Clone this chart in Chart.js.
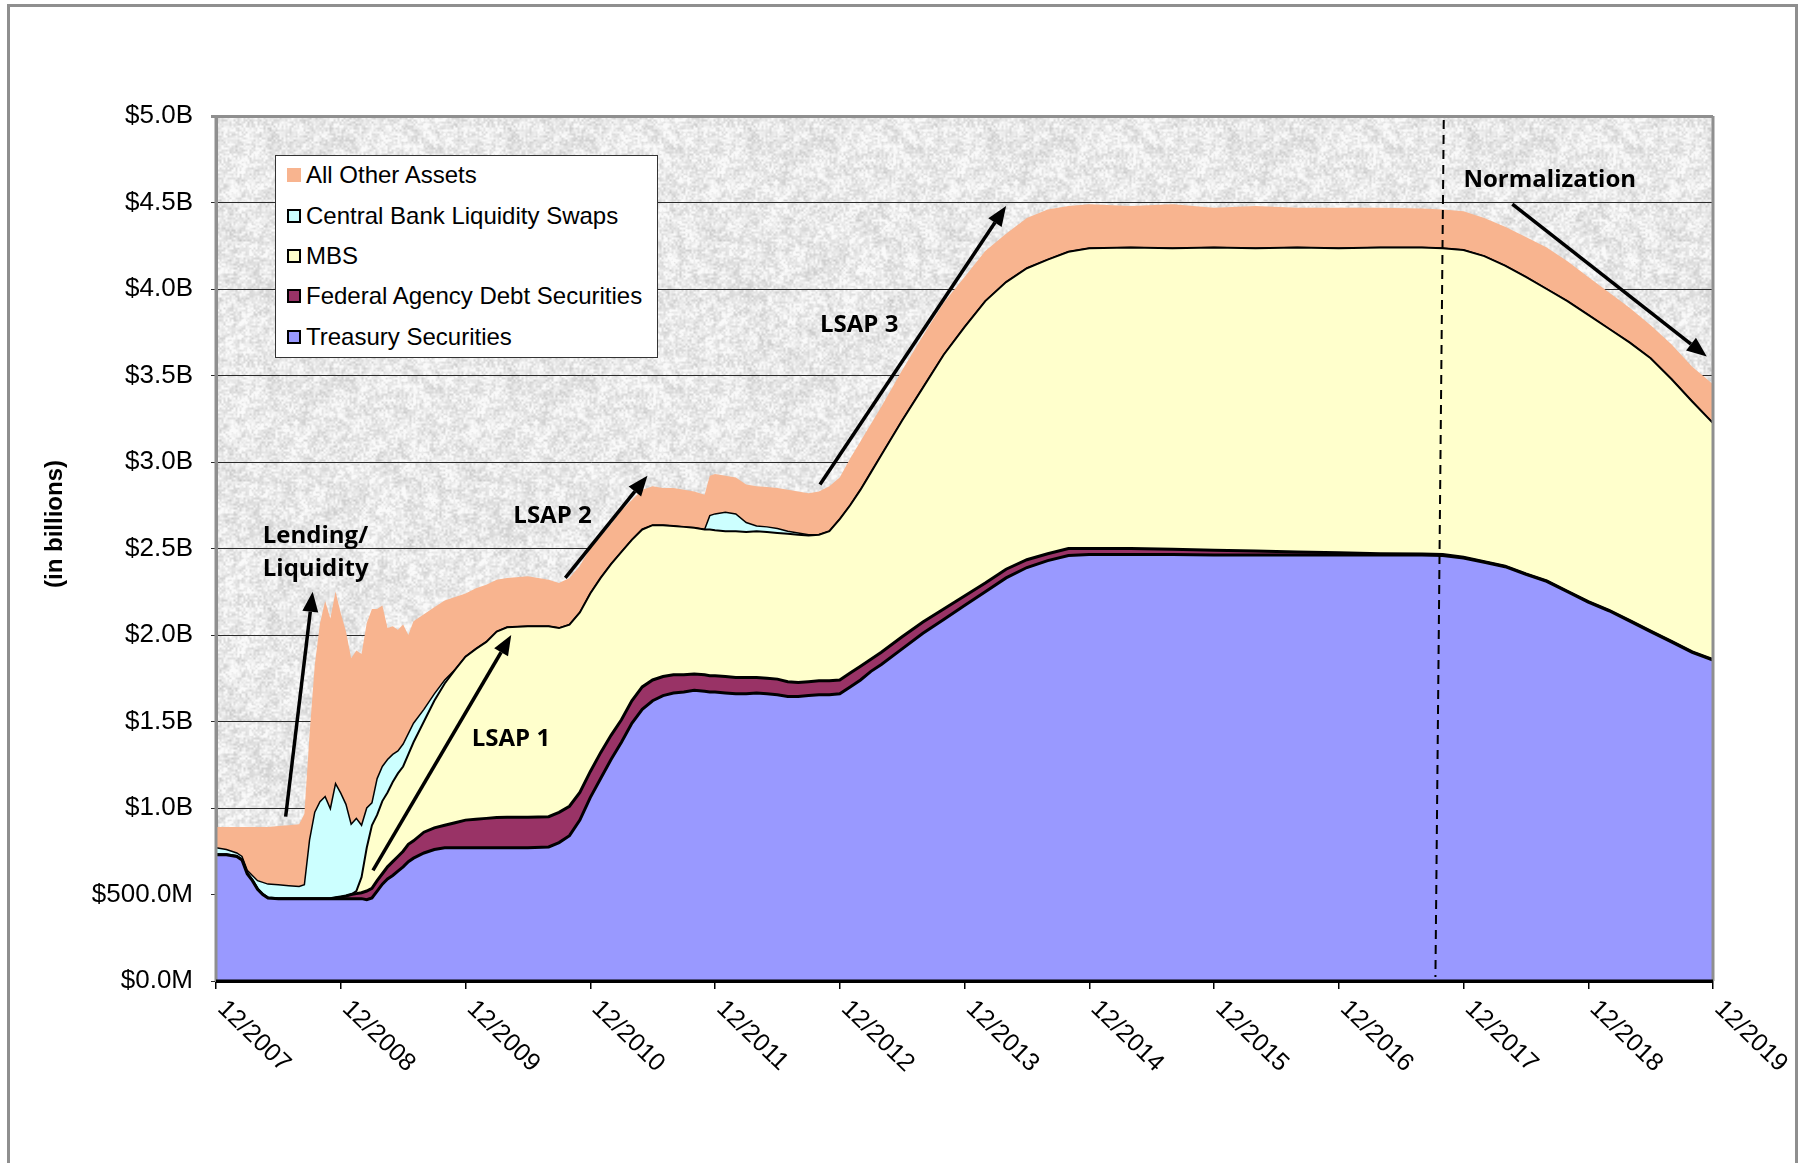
<!DOCTYPE html>
<html>
<head>
<meta charset="utf-8">
<title>Balance de la Reserva Federal</title>
<script src="https://cdn.jsdelivr.net/npm/chart.js@4.4.1/dist/chart.umd.min.js"></script>
<style>
    body { margin: 0; background: #fff; overflow: hidden; }
    #contenedor { position: relative; width: 1806px; height: 1163px; }
    #marco { position: absolute; left: 7px; top: 4px; width: 1791px; height: 1400px; border: 3px solid #8f8f8f; box-sizing: border-box; pointer-events: none; }
    #leyenda { position: absolute; left: 275px; top: 155px; width: 383px; height: 203px; background: #fff; border: 1px solid #333; box-sizing: border-box; font-family: "Liberation Sans", Arial, sans-serif; font-size: 24px; color: #000; }
    #leyenda .lista { position: relative; top: -1px; }
    #leyenda .item { height: 40.4px; display: flex; align-items: center; padding-left: 11px; white-space: nowrap; }
    #leyenda .caja { width: 14px; height: 14px; margin-right: 5px; box-sizing: border-box; flex: none; }
</style>
</head>
<body>
<div id="contenedor">
    <canvas id="grafica" width="1806" height="1163"></canvas>
    <div id="leyenda"></div>
    <div id="marco"></div>
</div>
<script>
// Meses transcurridos desde 12/2007 (eje x)
const meses = [
    0, 1, 2, 2.5, 3, 3.5, 4, 4.5, 5, 6, 7, 8, 8.5, 9, 9.5, 10, 10.5, 11, 11.5, 12, 12.5,
    13, 13.5, 14, 14.5, 15, 15.5, 16, 16.5, 17, 17.5, 18, 18.5, 19,
    20, 21, 22, 23, 24, 25, 26, 27, 28, 30, 32,
    33, 34, 35, 36, 37, 38, 39, 40, 41, 42, 43, 44, 45, 46, 47,
    47.5, 48, 49, 50, 51, 52, 53, 54, 55, 56, 57, 58, 59,
    60, 61, 62, 63, 64, 66, 68, 70, 72, 74, 76, 78, 80, 82, 84,
    88, 92, 96, 100, 104, 108, 112, 116, 118,
    120, 122, 124, 126, 128, 130, 132, 134, 136, 138, 140, 142, 144
];

// Valores de cada serie en billones de dolares
const tesoro = [
    .73, .73, .72, .70, .62, .58, .53, .50, .48, .476, .476, .476, .476, .476, .476, .476, .476, .476, .476, .476, .476,
    .476, .476, .476, .47, .48, .52, .56, .59, .61, .635, .66, .69, .71,
    .74, .76, .77, .77, .77, .77, .77, .77, .77, .77, .775,
    .80, .84, .93, 1.06, 1.17, 1.28, 1.38, 1.49, 1.57, 1.62, 1.65, 1.665, 1.67, 1.68, 1.675,
    1.67, 1.67, 1.665, 1.66, 1.66, 1.665, 1.66, 1.655, 1.645, 1.645, 1.65, 1.655, 1.655,
    1.66, 1.70, 1.74, 1.79, 1.83, 1.92, 2.01, 2.09, 2.17, 2.25, 2.33, 2.39, 2.43, 2.46, 2.465,
    2.465, 2.465, 2.463, 2.463, 2.463, 2.463, 2.463, 2.463, 2.46,
    2.445, 2.42, 2.395, 2.35, 2.31, 2.25, 2.19, 2.14, 2.08, 2.02, 1.96, 1.90, 1.855
];
const agencias = [
    0, 0, 0, 0, 0, 0, 0, 0, 0, 0, 0, 0, 0, 0, 0, 0, 0, 0, .005, .01, .015,
    .024, .029, .034, .05, .055, .06, .06, .07, .08, .085, .09, .10, .10,
    .12, .125, .13, .145, .16, .165, .17, .175, .177, .177, .175,
    .175, .17, .16, .15, .15, .14, .13, .13, .13, .12, .11, .105, .10, .095, .095,
    .095, .095, .095, .095, .095, .09, .09, .09, .085, .08, .08, .08, .08,
    .08, .08, .08, .07, .07, .07, .065, .06, .055, .05, .05, .045, .04, .04, .035,
    .035, .03, .027, .022, .017, .012, .007, .005, .005,
    .005, .004, .003, .003, .003, .003, .003, .003, .003, .003, .003, .003, .003
];
const mbs = [
    0, 0, 0, 0, 0, 0, 0, 0, 0, 0, 0, 0, 0, 0, 0, 0, 0, 0, 0, 0, 0,
    0, .015, .09, .25, .365, .38, .42, .43, .46, .48, .49, .52, .57,
    .64, .735, .82, .885, .945, .985, 1.02, 1.075, 1.098, 1.103, 1.10,
    1.065, 1.05, 1.04, 1.03, 1.01, .99, .97, .93, .91, .895, .875, .86, .855, .845, .84,
    .845, .84, .84, .845, .84, .845, .845, .845, .855, .855, .845, .845, .865,
    .93, .97, 1.02, 1.08, 1.14, 1.25, 1.355, 1.47, 1.555, 1.63, 1.66, 1.685, 1.70, 1.715, 1.735,
    1.74, 1.74, 1.75, 1.75, 1.76, 1.76, 1.77, 1.772, 1.77,
    1.775, 1.766, 1.737, 1.717, 1.687, 1.677, 1.657, 1.627, 1.607, 1.577, 1.517, 1.447, 1.367
];
const swaps = [
    .04, .03, .02, .02, .02, .03, .05, .07, .08, .08, .075, .07, .08, .34, .50, .56, .59, .52, .66, .60, .53,
    .406, .42, .30, .23, .13, .21, .20, .19, .16, .13, .13, .12, .11,
    .07, .04, .02, 0, 0, 0, 0, 0, 0, 0, 0,
    0, 0, 0, 0, 0, 0, 0, 0, 0, 0, 0, 0, 0, 0, 0,
    .08, .095, .11, .10, .055, .03, .03, .025, .015, .01, .005, 0, 0,
    0, 0, 0, 0, 0, 0, 0, 0, 0, 0, 0, 0, 0, 0, 0,
    0, 0, 0, 0, 0, 0, 0, 0, 0,
    0, 0, 0, 0, 0, 0, 0, 0, 0, 0, 0, 0, 0
];
const otros = [
    .12, .13, .15, .17, .25, .28, .31, .32, .33, .34, .35, .36, .41, .61, .85, 1.03, 1.13, 1.10, 1.11, 1.04, 1.00,
    .96, .97, .99, 1.07, 1.12, .98, .93, .76, .74, .70, .69, .57, .59,
    .55, .50, .46, .42, .365, .35, .33, .30, .285, .29, .27,
    .26, .27, .27, .26, .24, .23, .24, .23, .23, .225, .215, .22, .215, .21, .20,
    .23, .23, .21, .21, .22, .23, .23, .235, .24, .24, .24, .25, .26,
    .24, .27, .28, .28, .28, .29, .30, .30, .29, .29, .28, .29, .29, .265, .255,
    .24, .255, .23, .245, .23, .235, .23, .225, .225,
    .225, .22, .225, .23, .24, .23, .22, .21, .20, .19, .20, .20, .225
];

// Flechas y rotulos de las etapas (en coordenadas de la grafica: [mes, valor])
const flechas = [
    { desde: [6.7, 0.95], hasta: [9.3, 2.25] },
    { desde: [15.1, 0.64], hasta: [28.4, 2.0] },
    { desde: [33.6, 2.33], hasta: [41.5, 2.92] },
    { desde: [58.1, 2.87], hasta: [76.0, 4.48] },
    { desde: [124.7, 4.49], hasta: [143.4, 3.61] }
];
const rotulos = [
    { texto: 'Lending/', en: [4.5, 2.53] },
    { texto: 'Liquidity', en: [4.5, 2.34] },
    { texto: 'LSAP 1', en: [24.6, 1.36] },
    { texto: 'LSAP 2', en: [28.6, 2.65] },
    { texto: 'LSAP 3', en: [58.1, 3.75] },
    { texto: 'Normalization', en: [120, 4.59] }
];
// Linea punteada donde empieza la normalizacion (arriba, abajo)
const inicioNormalizacion = [118.1, 117.3];

const fuenteArial = '"Liberation Sans", Arial, sans-serif';

function serie(nombre, valores, color, grosor, relleno) {
    return {
        label: nombre,
        data: meses.map((m, i) => ({ x: m, y: valores[i] })),
        backgroundColor: color,
        borderColor: grosor > 0 ? '#000' : 'rgba(0,0,0,0)',
        borderWidth: grosor,
        fill: relleno,
        pointRadius: 0,
        tension: 0
    };
}

function formatoDinero(valor) {
    if (valor >= 1) {
        return '$' + valor.toFixed(1) + 'B';
    }
    return '$' + (valor * 1000).toFixed(1) + 'M';
}

// Textura gris tipo granito para el fondo del area de la grafica
function crearTextura() {
    const lado = 240;
    const c = document.createElement('canvas');
    c.width = c.height = lado;
    const g = c.getContext('2d');
    const img = g.createImageData(lado, lado);
    const hash = (x, y) => {
        let n = Math.imul(x, 374761393) + Math.imul(y, 668265263) | 0;
        n = Math.imul(n ^ (n >>> 13), 1274126177);
        return ((n ^ (n >>> 16)) >>> 0) / 4294967296;
    };
    const mezcla = (a, b, t) => a + (b - a) * t;
    const ruido = (x, y, escala) => {
        const n = lado / escala;
        const gx = x / escala, gy = y / escala;
        const x0 = Math.floor(gx), y0 = Math.floor(gy);
        const fx = gx - x0, fy = gy - y0;
        const v = (i, j) => hash(((i % n) + n) % n, ((j % n) + n) % n);
        return mezcla(mezcla(v(x0, y0), v(x0 + 1, y0), fx), mezcla(v(x0, y0 + 1), v(x0 + 1, y0 + 1), fx), fy);
    };
    for (let y = 0; y < lado; y++) {
        for (let x = 0; x < lado; x++) {
            const v = 0.5 * ruido(x, y, 2) + 0.3 * ruido(x, y, 5) + 0.2 * ruido(x, y, 10);
            const gris = Math.max(196, Math.min(250, 233 + (v - 0.5) * 75));
            const k = (y * lado + x) * 4;
            img.data[k] = img.data[k + 1] = img.data[k + 2] = gris;
            img.data[k + 3] = 255;
        }
    }
    g.putImageData(img, 0, 0);
    return c;
}

const fondoGranito = {
    id: 'fondoGranito',
    beforeDraw(chart) {
        const { ctx, chartArea: a } = chart;
        ctx.save();
        ctx.fillStyle = ctx.createPattern(crearTextura(), 'repeat');
        ctx.fillRect(a.left, a.top, a.right - a.left, a.bottom - a.top);
        ctx.restore();
    }
};

function dibujarFlecha(ctx, x1, y1, x2, y2) {
    const ang = Math.atan2(y2 - y1, x2 - x1);
    const largo = 20, ancho = 8;
    const bx = x2 - largo * Math.cos(ang), by = y2 - largo * Math.sin(ang);
    ctx.beginPath();
    ctx.moveTo(x1, y1);
    ctx.lineTo(bx, by);
    ctx.stroke();
    ctx.beginPath();
    ctx.moveTo(x2, y2);
    ctx.lineTo(bx + ancho * Math.sin(ang), by - ancho * Math.cos(ang));
    ctx.lineTo(bx - ancho * Math.sin(ang), by + ancho * Math.cos(ang));
    ctx.closePath();
    ctx.fill();
}

const anotaciones = {
    id: 'anotaciones',
    afterDatasetsDraw(chart) {
        const { ctx, chartArea: a, scales: { x, y } } = chart;
        ctx.save();
        // bordes del area de la grafica
        ctx.strokeStyle = '#8f8f8f';
        ctx.lineWidth = 3;
        ctx.beginPath();
        ctx.moveTo(a.right, a.top);
        ctx.lineTo(a.right, a.bottom);
        ctx.moveTo(a.left, a.top);
        ctx.lineTo(a.left, a.bottom);
        ctx.stroke();
        ctx.strokeStyle = '#000';
        ctx.beginPath();
        ctx.moveTo(a.left, a.bottom);
        ctx.lineTo(a.right, a.bottom);
        ctx.stroke();

        // linea punteada de la normalizacion
        ctx.lineWidth = 2;
        ctx.setLineDash([9, 6]);
        ctx.beginPath();
        ctx.moveTo(x.getPixelForValue(inicioNormalizacion[0]), a.top + 4);
        ctx.lineTo(x.getPixelForValue(inicioNormalizacion[1]), a.bottom - 4);
        ctx.stroke();
        ctx.setLineDash([]);

        // flechas
        ctx.lineWidth = 3.5;
        ctx.fillStyle = '#000';
        flechas.forEach((f) => {
            dibujarFlecha(ctx,
                x.getPixelForValue(f.desde[0]), y.getPixelForValue(f.desde[1]),
                x.getPixelForValue(f.hasta[0]), y.getPixelForValue(f.hasta[1]));
        });

        // rotulos
        ctx.font = 'bold 24px "Open Sans", Lato, sans-serif';
        ctx.textAlign = 'left';
        ctx.textBaseline = 'alphabetic';
        rotulos.forEach((r) => {
            ctx.fillText(r.texto, x.getPixelForValue(r.en[0]), y.getPixelForValue(r.en[1]));
        });
        ctx.restore();
    },
    afterDraw(chart) {
        const { ctx, chartArea: a, scales: { x } } = chart;
        ctx.save();
        // etiquetas del eje x giradas hacia abajo a la derecha
        ctx.font = '25px ' + fuenteArial;
        ctx.fillStyle = '#000';
        ctx.textAlign = 'left';
        ctx.textBaseline = 'top';
        x.ticks.forEach((t) => {
            ctx.save();
            ctx.translate(x.getPixelForValue(t.value) + 14, a.bottom + 15);
            ctx.rotate(44 * Math.PI / 180);
            ctx.fillText(t.label, 0, 0);
            ctx.restore();
        });
        // titulo del eje y
        ctx.font = 'bold 24px ' + fuenteArial;
        ctx.textAlign = 'center';
        ctx.textBaseline = 'middle';
        ctx.translate(55, 524);
        ctx.rotate(-Math.PI / 2);
        ctx.fillText('(in billions)', 0, 0);
        ctx.restore();
    }
};

const ctx = document.getElementById('grafica').getContext('2d');
const grafica = new Chart(ctx, {
    type: 'line',
    data: {
        datasets: [
            serie('Treasury Securities', tesoro, '#9999FF', 3, 'origin'),
            serie('Federal Agency Debt Securities', agencias, '#993366', 3, '-1'),
            serie('MBS', mbs, '#FFFFCC', 2, '-1'),
            serie('Central Bank Liquidity Swaps', swaps, '#CCFFFF', 1.5, '-1'),
            serie('All Other Assets', otros, '#F8B48F', 0, '-1')
        ]
    },
    options: {
        responsive: false,
        devicePixelRatio: 1,
        animation: false,
        layout: { padding: { top: 116, right: 93, left: 0, bottom: 0 } },
        plugins: {
            legend: { display: false },
            tooltip: { enabled: false }
        },
        scales: {
            x: {
                type: 'linear',
                min: 0,
                max: 144,
                ticks: {
                    display: false,
                    stepSize: 12,
                    callback: (v) => '12/' + (2007 + v / 12)
                },
                grid: { drawOnChartArea: false, drawTicks: true, tickLength: 8, color: '#000', lineWidth: 1.5 },
                border: { display: true, color: '#000', width: 3 },
                afterFit: (s) => { s.height = 182; }
            },
            y: {
                stacked: true,
                min: 0,
                max: 5,
                ticks: {
                    stepSize: 0.5,
                    padding: 18,
                    color: '#000',
                    font: { family: fuenteArial, size: 26 },
                    callback: formatoDinero
                },
                grid: {
                    color: (c) => c.tick.value === 5 ? '#8f8f8f' : '#2a2a2a',
                    lineWidth: (c) => c.tick.value === 5 ? 3 : 1,
                    tickLength: 5
                },
                border: { display: true, color: '#8f8f8f', width: 3 },
                afterFit: (s) => { s.width = 216; }
            }
        }
    },
    plugins: [fondoGranito, anotaciones]
});

// Leyenda en HTML, en el mismo orden que la grafica original
function generarLeyenda(chart) {
    const leyenda = document.getElementById('leyenda');
    leyenda.innerHTML = '';
    const lista = document.createElement('div');
    lista.className = 'lista';
    chart.data.datasets.slice().reverse().forEach((ds) => {
        const fila = document.createElement('div');
        fila.className = 'item';
        const caja = document.createElement('span');
        caja.className = 'caja';
        caja.style.background = ds.backgroundColor;
        if (ds.borderWidth > 0) {
            caja.style.border = '2px solid #000';
        }
        fila.appendChild(caja);
        fila.appendChild(document.createTextNode(ds.label));
        lista.appendChild(fila);
    });
    leyenda.appendChild(lista);
}
generarLeyenda(grafica);
</script>
</body>
</html>
